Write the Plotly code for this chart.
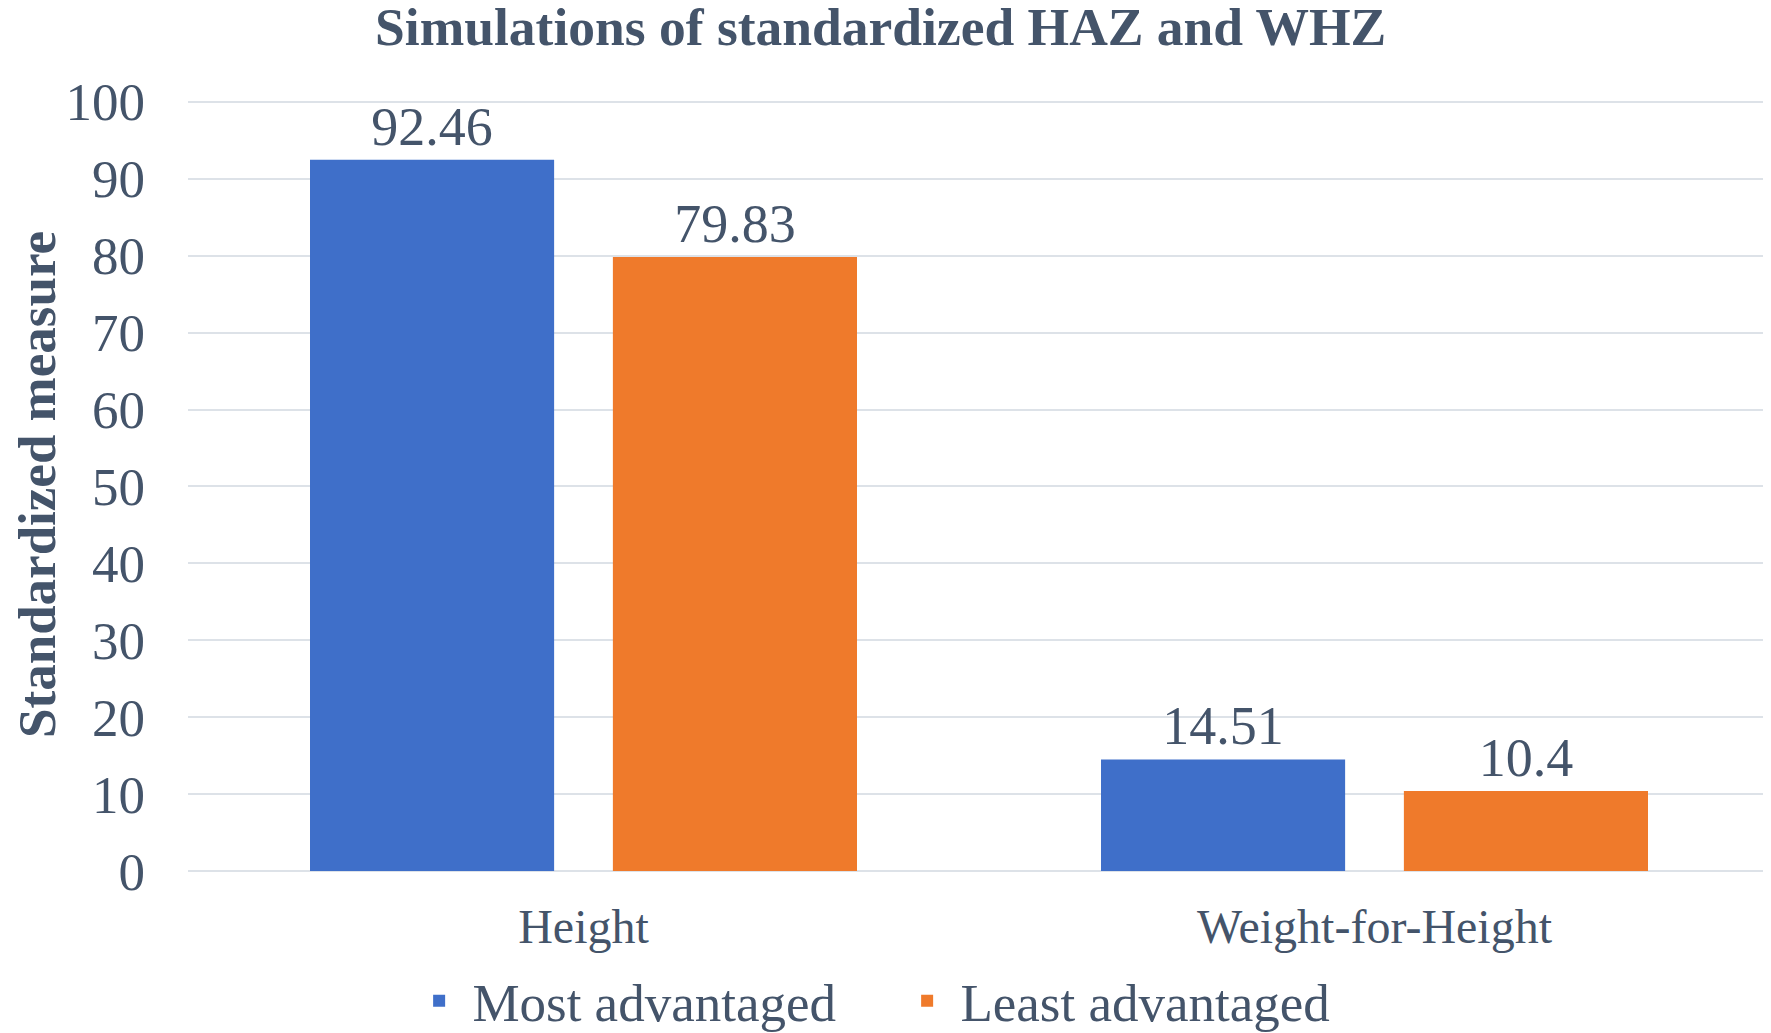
import plotly.graph_objects as go

categories = ['Height', 'Weight-for-Height']
most_advantaged = [92.46, 14.51]
least_advantaged = [79.83, 10.4]
series_names = ['Most advantaged', 'Least advantaged']
y_ticks = [0, 10, 20, 30, 40, 50, 60, 70, 80, 90, 100]

TEXT = '#44546A'
FONT = 'Liberation Serif, Times New Roman, serif'

# the page body has an 8px margin, so the figure is kept 8px smaller
W, H = 1763, 1025

fig = go.Figure()

fig.add_trace(go.Bar(
    x=categories,
    y=most_advantaged,
    name='\u00a0' + series_names[0],
    marker=dict(color='#3F6FC9', line=dict(width=0)),
    text=[f'{v:g}' for v in most_advantaged],
    textposition='outside',
    textfont=dict(size=54, color=TEXT, family=FONT),
    cliponaxis=False,
))

fig.add_trace(go.Bar(
    x=categories,
    y=least_advantaged,
    name='\u00a0' + series_names[1],
    marker=dict(color='#EF7A2B', line=dict(width=0)),
    text=[f'{v:g}' for v in least_advantaged],
    textposition='outside',
    textfont=dict(size=54, color=TEXT, family=FONT),
    cliponaxis=False,
))

fig.update_layout(
    width=W,
    height=H,
    margin=dict(l=180, r=1, t=90, b=162, autoexpand=False),
    paper_bgcolor='white',
    plot_bgcolor='white',
    font=dict(family=FONT, color=TEXT),
    title=dict(
        text='<b>Simulations of standardized HAZ and WHZ</b>',
        font=dict(size=53.5, color=TEXT, family=FONT),
        x=0.495, xanchor='center',
        yref='container', y=1 - 18 / H, yanchor='middle',
    ),
    barmode='group',
    bargap=0.2342,
    bargroupgap=0.194,
    showlegend=True,
    legend=dict(
        orientation='h',
        xref='container', x=0.510, xanchor='center',
        yref='paper', y=-0.168, yanchor='middle',
        font=dict(size=53, color=TEXT, family=FONT),
        entrywidth=443,
        itemsizing='constant',
    ),
)

fig.update_xaxes(
    tickfont=dict(size=48, color=TEXT, family=FONT),
    showline=False,
    ticks='',
    automargin=False,
    ticklabelstandoff=23,
)

fig.update_yaxes(
    range=[0, 100.5],
    tickvals=y_ticks,
    tickfont=dict(size=53, color=TEXT, family=FONT),
    showgrid=True,
    gridcolor='#DDE2E8',
    gridwidth=2,
    zeroline=True,
    zerolinecolor='#DDE2E8',
    zerolinewidth=2,
    ticks='',
    automargin=False,
    ticklabelstandoff=42,
    title=dict(
        text='<b>Standardized measure</b>',
        font=dict(size=53, color=TEXT, family=FONT),
    ),
)

fig.write_html('out.html')
